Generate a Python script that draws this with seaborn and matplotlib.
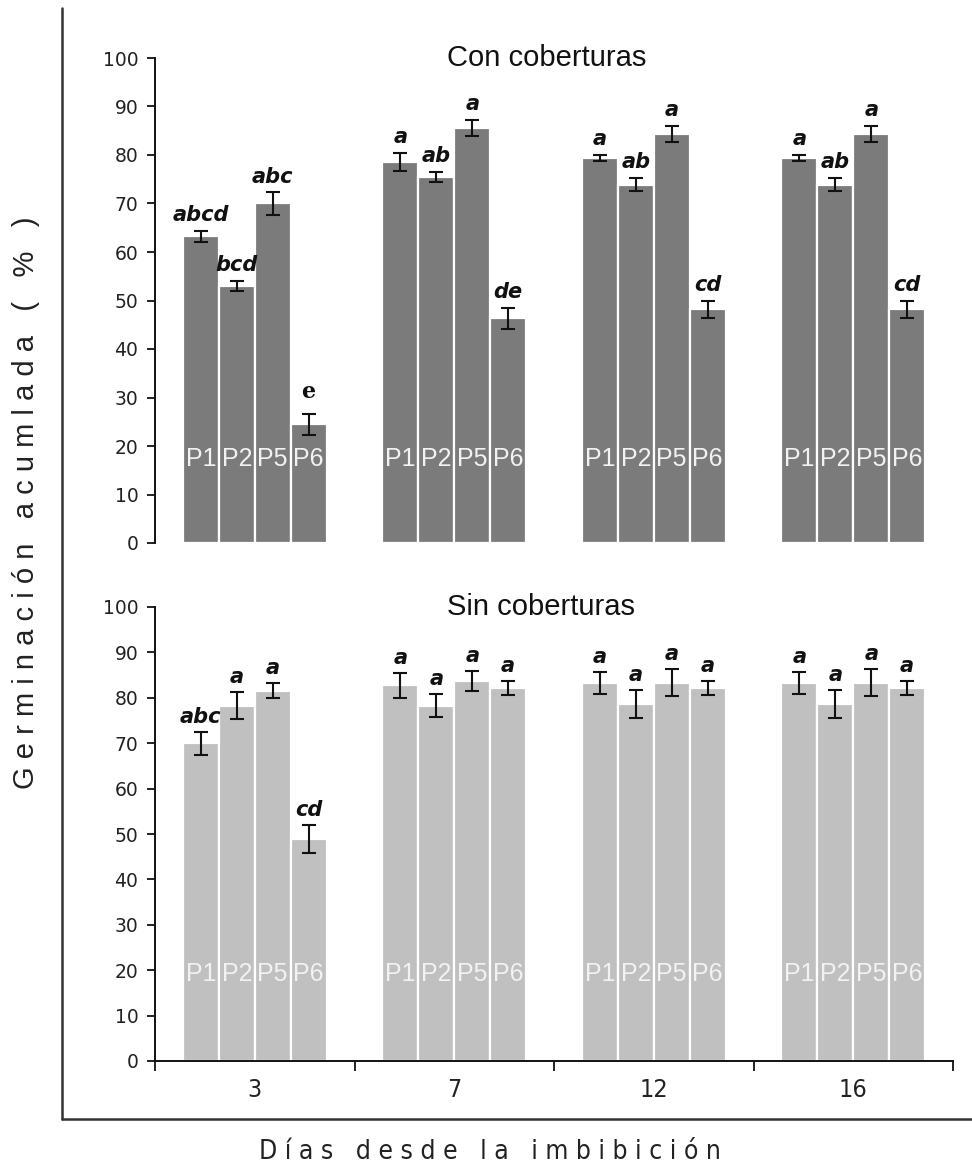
import numpy as np
import pandas as pd
import matplotlib
matplotlib.use("Agg")
import matplotlib.pyplot as plt
import matplotlib.transforms as mtransforms
from matplotlib.lines import Line2D
import seaborn as sns

# ---- data -------------------------------------------------------------
days = ["3", "7", "12", "16"]
positions = ["P1", "P2", "P5", "P6"]

# Con coberturas: mean germination (%) per position, for each day
con_p1 = [63.2, 78.6, 79.4, 79.4]
con_p2 = [53.0, 75.5, 73.9, 73.9]
con_p5 = [70.0, 85.6, 84.4, 84.4]
con_p6 = [24.5, 46.3, 48.2, 48.2]
con_err_p1 = [1.2, 1.9, 0.6, 0.6]
con_err_p2 = [1.1, 1.0, 1.4, 1.4]
con_err_p5 = [2.3, 1.6, 1.65, 1.65]
con_err_p6 = [2.2, 2.2, 1.8, 1.8]
con_let_p1 = ["abcd", "a", "a", "a"]
con_let_p2 = ["bcd", "ab", "ab", "ab"]
con_let_p5 = ["abc", "a", "a", "a"]
con_let_p6 = ["e", "de", "cd", "cd"]

# Sin coberturas
sin_p1 = [70.0, 82.8, 83.3, 83.3]
sin_p2 = [78.3, 78.3, 78.7, 78.7]
sin_p5 = [81.6, 83.7, 83.3, 83.3]
sin_p6 = [48.9, 82.1, 82.1, 82.1]
sin_err_p1 = [2.5, 2.75, 2.4, 2.4]
sin_err_p2 = [3.0, 2.5, 3.1, 3.1]
sin_err_p5 = [1.7, 2.1, 3.0, 3.0]
sin_err_p6 = [3.1, 1.5, 1.5, 1.5]
sin_let_p1 = ["abc", "a", "a", "a"]
sin_let_p2 = ["a", "a", "a", "a"]
sin_let_p5 = ["a", "a", "a", "a"]
sin_let_p6 = ["cd", "a", "a", "a"]

panel_titles = ["Con coberturas", "Sin coberturas"]
y_ticks = [0, 10, 20, 30, 40, 50, 60, 70, 80, 90, 100]
x_title = "Días desde la imbibición"
y_title = "Germinación acumlada ( % )"


def build(means, errs, letters):
    rows = []
    for p, m, e, l in zip(positions, means, errs, letters):
        for d, mv, ev, lv in zip(days, m, e, l):
            rows.append({"day": d, "pos": p, "value": mv, "err": ev, "letter": lv})
    return pd.DataFrame(rows)


df_con = build([con_p1, con_p2, con_p5, con_p6],
               [con_err_p1, con_err_p2, con_err_p5, con_err_p6],
               [con_let_p1, con_let_p2, con_let_p5, con_let_p6])
df_sin = build([sin_p1, sin_p2, sin_p5, sin_p6],
               [sin_err_p1, sin_err_p2, sin_err_p5, sin_err_p6],
               [sin_let_p1, sin_let_p2, sin_let_p5, sin_let_p6])

# ---- figure -----------------------------------------------------------
sns.set_style("white")
plt.rcParams["font.family"] = ["DejaVu Sans"]

W, H = 972, 1169
fig = plt.figure(figsize=(W / 100, H / 100), dpi=100)


def fx(px):
    return px / W


def fy(py):
    return 1 - py / H


ax_top = fig.add_axes([fx(155), fy(543), fx(953) - fx(155), fy(58) - fy(543)])
ax_bot = fig.add_axes([fx(155), fy(1061), fx(953) - fx(155), fy(607) - fy(1061)])


def draw_panel(ax, df, color, title, plabel_y, show_x):
    sns.barplot(data=df, x="day", y="value", hue="pos", order=days,
                hue_order=positions, palette=[color] * len(positions),
                width=0.72, edgecolor="white", linewidth=1.6, saturation=1,
                errorbar=None, legend=False, ax=ax)
    for i, p in enumerate(positions):
        sub = df[df["pos"] == p].set_index("day").loc[days]
        for bar, (_, row) in zip(ax.containers[i], sub.iterrows()):
            cx = bar.get_x() + bar.get_width() / 2
            h = bar.get_height()
            ax.errorbar(cx, h, yerr=row["err"], fmt="none", ecolor="#111111",
                        elinewidth=1.5, capsize=5.3, capthick=1.5, zorder=4)
            if row["letter"] == "e":
                ax.text(cx, h + row["err"] + 3.3, row["letter"], ha="center",
                        va="baseline", fontsize=16, fontweight="bold",
                        family="DejaVu Serif", color="#111111")
            else:
                ax.text(cx, h + row["err"] + 2.0, row["letter"], ha="center",
                        va="baseline", fontsize=15, fontweight="bold",
                        style="italic", color="#111111")
            ax.text(cx, plabel_y, p, ha="center", va="baseline", fontsize=18,
                    family="Liberation Sans", color="#f2f2f2", zorder=5)

    ax.set_xlim(-0.5, len(days) - 0.5)
    ax.set_ylim(0, 100)
    ax.set_yticks(y_ticks)
    ax.tick_params(axis="y", direction="out", length=6, width=1.3,
                   color="#111111", labelsize=13.5, pad=6,
                   labelcolor="#222222", left=True)
    ax.set_xlabel("")
    ax.set_ylabel("")
    for s in ["top", "right"]:
        ax.spines[s].set_visible(False)
    ax.spines["left"].set_color("#111111")
    ax.spines["left"].set_linewidth(1.4)
    trans = mtransforms.blended_transform_factory(ax.transAxes, ax.transData)
    ax.text(0.366, 100, title, transform=trans, ha="left", va="center",
            fontsize=21, family="Liberation Sans", color="#111111")
    if show_x:
        ax.spines["bottom"].set_color("#111111")
        ax.spines["bottom"].set_linewidth(1.4)
        ax.set_xticks(range(len(days)))
        ax.set_xticklabels(days, fontsize=18, fontstretch="condensed",
                           color="#222222")
        ax.tick_params(axis="x", which="major", length=0, pad=12)
        ax.set_xticks(np.arange(-0.5, len(days)), minor=True)
        ax.tick_params(axis="x", which="minor", direction="out", length=7,
                       width=1.3, color="#111111", bottom=True)
    else:
        ax.spines["bottom"].set_visible(False)
        ax.set_xticks([])


draw_panel(ax_top, df_con, "#7b7b7b", panel_titles[0], 15.9, False)
draw_panel(ax_bot, df_sin, "#c0c0c0", panel_titles[1], 17.6, True)

# outer frame lines (left and bottom)
fig.add_artist(Line2D([fx(62), fx(62)], [fy(8), fy(1119)], color="#333333",
                      linewidth=1.8, transform=fig.transFigure))
fig.add_artist(Line2D([fx(62), 1.0], [fy(1119), fy(1119)], color="#333333",
                      linewidth=1.8, transform=fig.transFigure))

# spaced-out axis titles
fig.text(fx(490), fy(1152), " ".join(x_title), ha="center", va="center",
         fontsize=19, fontstretch="condensed", color="#222222")
fig.text(fx(26), fy(503), " ".join(y_title), rotation=90, ha="center",
         va="center", fontsize=21, family="Liberation Sans", color="#222222")

fig.savefig("out.png", dpi=100)
